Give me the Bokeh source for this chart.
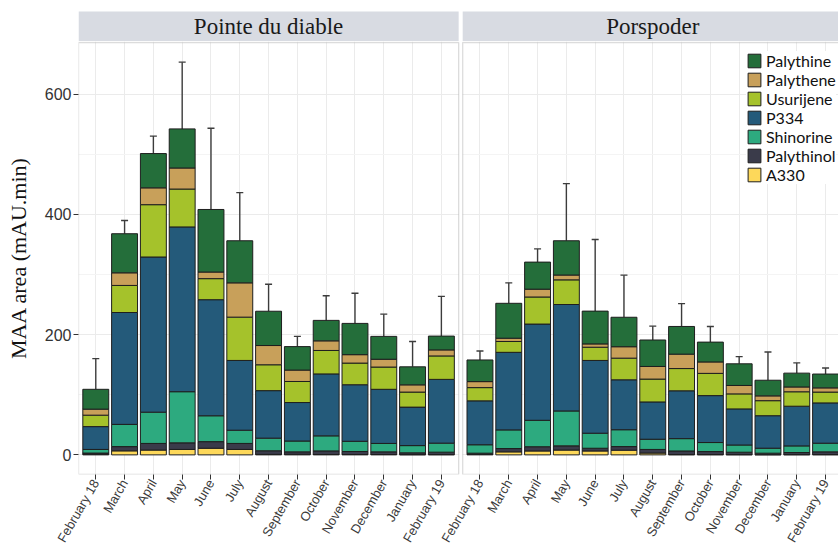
import math
from bokeh.plotting import figure
from bokeh.models import (ColumnDataSource, FixedTicker, Whisker, TeeHead, Legend,
                          LegendItem, BoxAnnotation, Range1d)
from bokeh.layouts import column
from bokeh.core.properties import value
from bokeh.embed import file_html
from bokeh.resources import INLINE

# ---------------- data ----------------
months = ["February 18", "March", "April", "May", "June", "July", "August",
          "September", "October", "November", "December", "January", "February 19"]
sites = ["Pointe du diable", "Porspoder"]
compounds = ["A330", "Palythinol", "Shinorine", "P334", "Usurijene", "Palythene", "Palythine"]
colors = ["#FDD85A", "#3A3B4A", "#2DAA7F", "#245A7A", "#A5C22B", "#C8A05A", "#246E3A"]

# Pointe du diable
pdd_A330 = [1, 6.7, 8, 9, 11, 9, 0.8, 1, 0.6, 0.6, 0.6, 0.4, 0.5]
pdd_Palythinol = [2, 7, 11, 11, 11, 10, 6, 4, 6, 5, 4.4, 3, 4]
pdd_Shinorine = [6, 37, 52, 85, 43, 22, 21, 18, 25, 17, 14, 12, 15]
pdd_P334 = [38, 186, 258, 274, 193, 116, 79, 64, 103, 94, 90, 64, 106]
pdd_Usurijene = [19, 45, 87, 63, 35, 72, 43, 35, 39, 36, 37, 25, 39]
pdd_Palythene = [10, 21, 28, 35, 11, 57, 32, 19, 16, 14, 13, 12, 10]
pdd_Palythine = [33, 65, 57, 65, 104, 70, 57, 39, 34, 52, 38, 30, 23]
pdd_sd = [51, 22, 29, 111, 135, 80, 45, 17, 41, 50, 37, 42, 66]

# Porspoder
por_A330 = [0.8, 5, 6.5, 8, 6.5, 7.8, 3, 0.5, 0.5, 0.4, 0.3, 0.4, 0.5]
por_Palythinol = [2, 5.5, 7, 7, 4.5, 6, 6, 6, 5, 4, 2.5, 3.5, 4.5]
por_Shinorine = [14, 31, 44, 58, 25, 28, 17, 20.5, 15, 12, 8.3, 11, 14.4]
por_P334 = [73, 129, 160, 177, 121, 83, 62, 79.5, 78, 60, 54, 66, 67]
por_Usurijene = [22, 18, 45, 41, 22, 36, 38, 37, 37, 25, 25, 24, 18]
por_Palythene = [10, 5.5, 13, 8, 5.5, 19, 21, 24, 19, 14, 8, 8, 7]
por_Palythine = [36, 58, 45, 57, 54.5, 49, 44, 46, 33, 36, 26, 23, 23]
por_sd = [15, 34, 22, 95, 119, 70, 23, 38, 26, 12, 47, 17, 10]

y_ticks = [0, 200, 400, 600]
y_minor = [100, 300, 500]
y_label = "MAA area (mAU.min)"

# ---------------- layout constants (pixels) ----------------
W = 838
STRIP_H = 41          # strip figure height (page 0..41)
MAIN_H = 510          # main figure height (page 41..551)
LEFT_B = 78
PANEL_PX = 433        # frame height (panel from page 42 to ~474 + 1px headroom)
BOTTOM_B = MAIN_H - PANEL_PX
PX_PER_UNIT = 28.8

EXPAND = 0.6
N = len(months)
PANEL_W = N - 1 + 2 * EXPAND
GAP = 0.14
OFFSET = PANEL_W + GAP
X0 = 1 - EXPAND
X_END = X0 + (W - LEFT_B) / PX_PER_UNIT
panel_left = [X0, X0 + OFFSET]
panel_right = [X0 + PANEL_W, X0 + OFFSET + PANEL_W]

pdd = dict(A330=pdd_A330, Palythinol=pdd_Palythinol, Shinorine=pdd_Shinorine, P334=pdd_P334,
           Usurijene=pdd_Usurijene, Palythene=pdd_Palythene, Palythine=pdd_Palythine)
por = dict(A330=por_A330, Palythinol=por_Palythinol, Shinorine=por_Shinorine, P334=por_P334,
           Usurijene=por_Usurijene, Palythene=por_Palythene, Palythine=por_Palythine)

xs, labels = [], []
data = {c: [] for c in compounds}
total, upper = [], []
for k, (site, sd) in enumerate([(pdd, pdd_sd), (por, por_sd)]):
    for i, m in enumerate(months):
        xs.append(i + 1 + k * OFFSET)
        labels.append(m)
        t = 0
        for c in compounds:
            data[c].append(site[c][i])
            t += site[c][i]
        total.append(t)
        upper.append(t + sd[i])

# ggplot-like 5% expansion
ymax_d = max(upper)
y_lo = 0 - 0.05 * ymax_d
y_hi = ymax_d + 0.05 * ymax_d
u_per_px = (y_hi - y_lo) / (PANEL_PX - 1)
y_frame_top = y_hi + 1 * u_per_px

src = ColumnDataSource(dict(x=xs, total=total, upper=upper, **data))
x_range = Range1d(X0, X_END)

# ---------------- main figure ----------------
p = figure(width=W, height=MAIN_H, x_range=x_range, y_range=Range1d(y_lo, y_frame_top),
           output_backend="svg", toolbar_location=None,
           min_border_left=LEFT_B, min_border_right=0, min_border_top=0,
           min_border_bottom=BOTTOM_B, outline_line_color=None)

renderers = p.vbar_stack(compounds, x="x", width=0.9, color=colors, source=src,
                         line_color="#1E1E1E", line_width=1)

wh = Whisker(base="x", lower="total", upper="upper", source=src,
             line_color="#3C3C3C", line_width=1.4,
             upper_head=TeeHead(size=7, line_color="#3C3C3C", line_width=1.4),
             lower_head=None)
p.add_layout(wh)

p.add_layout(BoxAnnotation(bottom=y_hi, fill_color="white", fill_alpha=1, line_color=None))
p.add_layout(BoxAnnotation(left=panel_right[0], right=panel_left[1], fill_color="white",
                           fill_alpha=1, line_color=None))
for l, r in zip(panel_left, panel_right):
    p.add_layout(BoxAnnotation(left=l, right=r, top=y_hi, fill_alpha=0,
                               line_color="#8A8A8A", line_width=1.3))

# axes
p.xaxis.ticker = FixedTicker(ticks=xs)
p.xaxis.major_label_overrides = {x: lab for x, lab in zip(xs, labels)}
p.xaxis.major_label_orientation = math.pi / 3
p.xaxis.major_label_text_font = "Liberation Sans"
p.xaxis.major_label_text_font_size = "13px"
p.xaxis.major_label_text_color = "#3A3A3A"
p.xaxis.major_label_standoff = 1

p.yaxis.ticker = FixedTicker(ticks=y_ticks, minor_ticks=y_minor)
p.yaxis.major_label_text_font = "Liberation Sans"
p.yaxis.major_label_text_font_size = "16px"
p.yaxis.major_label_text_color = "#333333"
p.yaxis.major_label_standoff = 2
p.yaxis.axis_label = y_label
p.yaxis.axis_label_text_font = "Liberation Serif"
p.yaxis.axis_label_text_font_style = "normal"
p.yaxis.axis_label_text_font_size = "22px"
p.yaxis.axis_label_text_color = "#111111"
p.yaxis.axis_label_standoff = 11

for ax in (p.xaxis, p.yaxis):
    ax.axis_line_color = None
    ax.major_tick_line_color = "#333333"
    ax.major_tick_out = 5
    ax.major_tick_in = 0
    ax.minor_tick_line_color = None

p.xgrid.grid_line_color = "#EBEBEB"
p.ygrid.grid_line_color = "#EBEBEB"
p.ygrid.minor_grid_line_color = "#F4F4F4"

legend = Legend(items=[LegendItem(label=c, renderers=[r])
                       for c, r in reversed(list(zip(compounds, renderers)))],
                location=(668, 290), glyph_width=16, glyph_height=17, spacing=0,
                padding=0, margin=0, label_standoff=4, label_height=17,
                label_text_font="Lato", label_text_font_size="16px",
                label_text_color="#111111", border_line_color=None,
                background_fill_color="white", background_fill_alpha=1)
p.add_layout(legend)

# ---------------- strip figure ----------------
s = figure(width=W, height=STRIP_H, x_range=x_range, y_range=Range1d(0, STRIP_H),
           output_backend="svg", toolbar_location=None,
           min_border_left=LEFT_B, min_border_right=0, min_border_top=0, min_border_bottom=0,
           outline_line_color=None)
s.axis.visible = False
s.grid.visible = False
s.quad(left=panel_left, right=panel_right, bottom=0.5, top=30, fill_color="#D8DBE2",
       line_color=None)
s.text(x=[(l + r) / 2 for l, r in zip(panel_left, panel_right)], y=[15, 15], text=sites,
       text_font=value("Liberation Serif"), text_font_size="23px", text_align="center",
       text_baseline="middle", text_color="#1A1A1A")

layout = column(s, p)
open("out.html", "w").write(file_html(layout, INLINE))
